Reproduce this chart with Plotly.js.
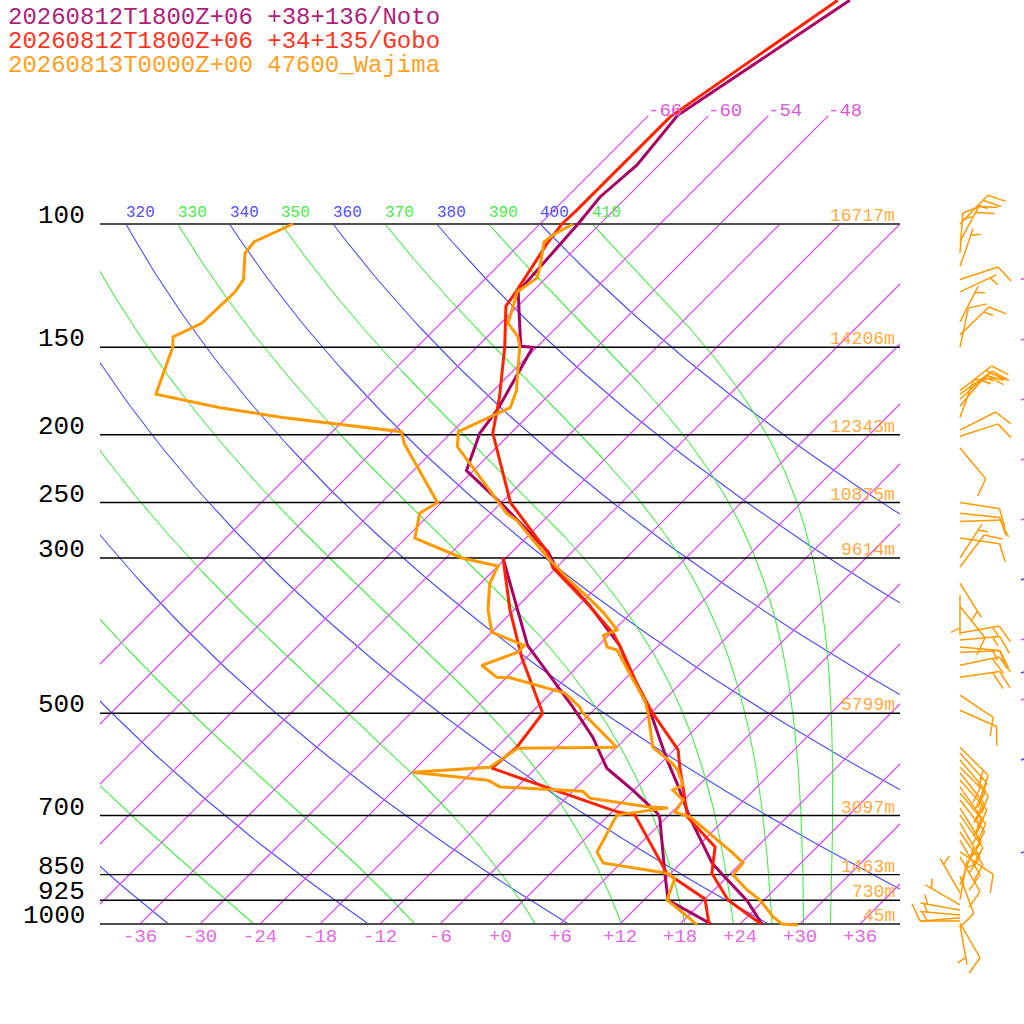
<!DOCTYPE html>
<html><head><meta charset="utf-8">
<script src="https://cdn.plot.ly/plotly-3.0.1.min.js"></script>
<style>html,body{margin:0;padding:0;background:#fff}#chart{width:1024px;height:1024px}</style>
</head><body><div id="chart"></div>
<script>
// ---------------- DATA ----------------
const titles = ["20260812T1800Z+06 +38+136/Noto", "20260812T1800Z+06 +34+135/Gobo", "20260813T0000Z+00 47600_Wajima"];
const pressureLevels = [100, 150, 200, 250, 300, 500, 700, 850, 925, 1000];
const heightLabels = ["16717m", "14206m", "12343m", "10875m", "9614m", "5799m", "3097m", "1463m", "730m", "45m"];
const tempTicks = [-36, -30, -24, -18, -12, -6, 0, 6, 12, 18, 24, 30, 36];
const tempTickText = ["-36", "-30", "-24", "-18", "-12", "-6", "+0", "+6", "+12", "+18", "+24", "+30", "+36"];
const isotherms = [-66, -60, -54, -48, -42, -36, -30, -24, -18, -12, -6, 0, 6, 12, 18, 24, 30, 36];
const isothermLabels = [-66, -60, -54, -48];
const dryThetas = [240, 260, 280, 300, 320, 340, 360, 380, 400];
const moistThetas = [250, 270, 290, 310, 330, 350, 370, 390, 410];

// Noto (model)
const noto_p  = [1000, 925, 850, 818, 704, 629, 583, 495, 444, 400, 350, 312, 294, 250, 225, 199, 184, 150, 149.5, 125, 100, 91.5, 82.4, 70, 47.9];
const noto_t  = [26.2, 22.3, 17.3, 15.1, 8.3, 3.6, 0.3, -6.4, -11.4, -15.9, -23.0, -29.7, -32.4, -42.1, -48.7, -51.1, -51.7, -54.4, -55.7, -61.4, -62.2, -62.7, -62.2, -63.1, -57.4];
const noto_dp = [1000, 924, 846, 704, 694, 644, 599, 541, 490, 463, 400, 300];
const noto_td = [21.1, 14.4, 11.4, 5.3, 4.6, -0.1, -4.9, -9.4, -14.4, -17.4, -25.1, -36.3];
// Gobo (model)
const gobo_p  = [1000, 924, 846, 776, 704, 597, 564, 498, 453, 400, 384, 348, 310, 294, 250, 199, 177, 150, 131, 124, 106, 100, 95.4, 70.3, 68.7, 47.9];
const gobo_t  = [26.1, 20.4, 16.1, 13.8, 8.1, 2.3, 0.4, -6.0, -10.4, -15.9, -17.8, -23.4, -30.3, -32.5, -41.1, -49.8, -52.7, -57.2, -61.2, -61.7, -63.4, -63.8, -63.7, -63.7, -63.4, -58.6];
const gobo_dp = [1000, 921, 846, 766, 699, 692, 599, 559, 500, 416, 356, 300];
const gobo_td = [20.9, 18.0, 11.6, 6.9, 2.6, 0.6, -16.4, -16.0, -16.8, -24.5, -30.4, -36.3];
// Wajima (observed)
const waj_p  = [1003, 1000, 977, 924, 894, 851, 818, 792, 703, 692, 665, 644, 633, 603, 589, 559, 498, 479, 448, 406, 402, 387, 380, 359, 344, 323, 305, 299, 265, 259, 208, 198, 189, 183, 173, 160, 150, 145, 138.5, 128.4, 125, 119.4, 115.2, 106.1, 103.7, 100];
const waj_t  = [29.9, 28.2, 26.6, 23.6, 21.3, 18.4, 18.2, 16.2, 8.3, 6.3, 5.9, 3.9, 4.4, 2.4, 1.1, -2.4, -6.4, -7.9, -11.1, -15.7, -17.0, -18.5, -17.7, -20.8, -23.4, -27.4, -30.8, -32.0, -38.7, -40.4, -52.0, -53.4, -51.8, -50.6, -51.7, -53.9, -55.7, -56.9, -59.3, -60.9, -61.5, -60.9, -61.7, -63.8, -63.6, -62.7];
const waj_dp = [1003, 964, 924, 860, 846, 818, 789, 699, 687, 683, 680, 661, 646, 637, 623, 607, 597, 561, 559, 498, 490, 468, 445, 444, 427, 409, 400, 383, 356, 326, 308, 300, 281, 259, 250, 206, 198, 189, 183, 175, 150, 145, 138.5, 125, 120, 110, 106, 100];
const waj_td = [19.8, 17.2, 14.3, 12.9, 11.6, 4.2, 2.5, 0.8, 3.9, 5.2, 3.0, -3.6, -5.0, -13.7, -15.6, -23.9, -16.7, -15.8, -6.0, -13.0, -13.7, -16.6, -23.6, -25.0, -27.7, -25.4, -25.4, -30.0, -32.6, -35.1, -36.0, -40.4, -47.1, -49.1, -48.4, -57.6, -59.1, -72.4, -79.6, -87.4, -90.4, -91.4, -89.9, -89.7, -90.1, -92.6, -92.8, -90.7];
// Wajima winds (hPa, direction deg, speed kt)
const wind_p   = [100, 106, 110, 115, 120, 125, 138, 144, 150, 173, 175, 178, 182, 189, 197, 201, 209, 250, 259, 266, 281, 300, 309, 326, 339, 352, 384, 393, 402, 409, 427, 444, 471, 495, 559, 570, 583, 597, 608, 623, 637, 650, 665, 683, 699, 717, 739, 759, 789, 802, 854, 880, 903, 924, 939, 955, 971, 980, 990, 997, 1003];
const wind_dir = [44, 28, 4, 19, 72, 65, 27, 46, 12, 52, 55, 48, 40, 20, 63, 72, 140, 99, 96, 88, 98, 33, 37, 148, 180, 141, 80, 85, 95, 88, 78, 82, 124, 114, 135, 138, 140, 135, 142, 138, 145, 140, 142, 148, 145, 150, 145, 150, 124, 150, 160, 20, 330, 10, 300, 280, 275, 265, 270, 150, 170];
const wind_kt  = [25, 20, 15, 5, 10, 5, 5, 15, 10, 20, 25, 15, 15, 10, 10, 10, 10, 10, 10, 10, 10, 5, 10, 5, 5, 10, 15, 15, 10, 15, 20, 20, 10, 10, 15, 15, 20, 15, 15, 20, 15, 15, 15, 15, 10, 10, 10, 10, 10, 10, 10, 5, 5, 5, 5, 5, 5, 5, 10, 10, 5];
// small marks at the right page edge
const markPurple_p = [120, 146.5, 178.4, 217.4, 264.8, 322.6, 392.9, 478.6, 583.1];
const markBlue_p = [322.6, 437.9, 583.1, 791.8];

// ---------------- GEOMETRY ----------------
const K = 70 / Math.LN10;           // skew: degC per ln(1000/p)
const KAP = 0.2857;
function X(tc, p) { return tc + K * Math.log(1000 / p); }
const colIso = '#dc50f4';
const colDry = '#4a4aff';
const colMoist = '#44ee44';
const FONT = 'Liberation Mono, Cousine, monospace';

const traces = [];

// dry adiabats
const plist = [];
for (let i = 0; i <= 80; i++) plist.push(1000 * Math.pow(0.1, i / 80));
const dryX = [], dryY = [];
dryThetas.forEach(th => {
  plist.forEach(p => { dryX.push(X(th * Math.pow(p / 1000, KAP) - 273.15, p)); dryY.push(p); });
  dryX.push(null); dryY.push(null);
});
traces.push({ type: 'scatter', x: dryX, y: dryY, mode: 'lines', line: { color: colDry, width: 1.1 }, hoverinfo: 'skip' });

// moist adiabats (pseudo-adiabatic), integrated downward from 100 hPa
const Rd = 287.04, cpd = 1005.7, Lv = 2.501e6, EPS = 0.622;
function es(T) { const c = T - 273.15; return 6.112 * Math.exp(17.67 * c / (c + 243.5)); }
function dT(T, lnp) {
  const p = Math.exp(lnp); const e = es(T); const rs = EPS * e / Math.max(p - e, 1e-3);
  return (Rd * T + Lv * rs) / (cpd + Lv * Lv * rs * EPS / (Rd * T * T));
}
function moistCurve(thTop) {
  const n = 200; let lnp = Math.log(100); const h = (Math.log(1000) - lnp) / n;
  let T = thTop * Math.pow(0.1, KAP); const out = [];
  for (let i = 0; i <= n; i++) {
    out.push([T - 273.15, Math.exp(lnp)]);
    const k1 = dT(T, lnp), k2 = dT(T + h * k1 / 2, lnp + h / 2), k3 = dT(T + h * k2 / 2, lnp + h / 2), k4 = dT(T + h * k3, lnp + h);
    T += h * (k1 + 2 * k2 + 2 * k3 + k4) / 6; lnp += h;
  }
  return out;
}
const moX = [], moY = [];
moistThetas.forEach(th => {
  moistCurve(th).forEach(([t, p]) => { moX.push(X(t, p)); moY.push(p); });
  moX.push(null); moY.push(null);
});
traces.push({ type: 'scatter', x: moX, y: moY, mode: 'lines', line: { color: colMoist, width: 1.1 }, hoverinfo: 'skip' });

// isotherms: one trace per line, sampled along pressure
isotherms.forEach(t => {
  const ptop = t <= -48 ? 70 : 100;
  const xs = [], ys = [];
  for (let i = 0; i <= 20; i++) { const p = 1000 * Math.pow(ptop / 1000, i / 20); xs.push(X(t, p)); ys.push(p); }
  traces.push({ type: 'scatter', x: xs, y: ys, mode: 'lines', line: { color: colIso, width: 1.25 }, opacity: 1, hoverinfo: 'skip' });
});

// pressure lines
const plxa = [], plya = [], plxb = [], plyb = [];
pressureLevels.forEach(p => {
  if (p === 100 || p === 1000) { plxb.push(-40, 40, null); plyb.push(p, p, null); }
  else { plxa.push(-40, 40, null); plya.push(p, p, null); }
});
traces.push({ type: 'scatter', x: plxa, y: plya, mode: 'lines', line: { color: '#000000', width: 1.4 }, hoverinfo: 'skip' });
traces.push({ type: 'scatter', x: plxb, y: plyb, mode: 'lines', line: { color: '#505050', width: 2 }, hoverinfo: 'skip' });

// soundings
function prof(ps, ts, color, w) {
  return { type: 'scatter', x: ts.map((t, i) => X(t, ps[i])), y: ps, mode: 'lines', line: { color, width: w }, hoverinfo: 'skip' };
}
const cNoto = '#aa0066', cGobo = '#ff2200', cWaj = '#ff9900';
traces.push(prof(noto_p, noto_t, cNoto, 3), prof(noto_dp, noto_td, cNoto, 3));
traces.push(prof(gobo_p, gobo_t, cGobo, 3), prof(gobo_dp, gobo_td, cGobo, 3));
traces.push(prof(waj_p, waj_t, cWaj, 3), prof(waj_dp, waj_td, cWaj, 3));

// wind barbs on the secondary (pixel-x, log-p) axes
const bx = [], by = [];
(function () {
  const L = 40, F = 19, H = 10, S = 7, BX = 960, A = 65 * Math.PI / 180;
  function pt(px, dy, p) { bx.push(px); by.push(p * Math.pow(10, dy / 700)); }
  wind_p.forEach((p, i) => {
    const r = wind_dir[i] * Math.PI / 180;
    const ux = Math.sin(r), uy = -Math.cos(r);
    const fx = ux * Math.cos(A) - uy * Math.sin(A), fy = ux * Math.sin(A) + uy * Math.cos(A);
    const tx = BX + L * ux, ty = L * uy;
    pt(BX, 0, p); pt(tx, ty, p); bx.push(null); by.push(null);
    let full = Math.floor(wind_kt[i] / 10), half = (wind_kt[i] % 10) >= 5 ? 1 : 0, k = 0;
    for (let j = 0; j < full; j++, k++) {
      const sx = tx - k * S * ux, sy = ty - k * S * uy;
      pt(sx, sy, p); pt(sx + F * fx, sy + F * fy, p); bx.push(null); by.push(null);
    }
    if (half) {
      if (k === 0) k = 1;
      const sx = tx - k * S * ux, sy = ty - k * S * uy;
      pt(sx, sy, p); pt(sx + H * fx, sy + H * fy, p); bx.push(null); by.push(null);
    }
  });
})();
traces.push({ type: 'scatter', x: bx, y: by, xaxis: 'x2', yaxis: 'y2', mode: 'lines', line: { color: cWaj, width: 1.5 }, hoverinfo: 'skip' });
function marks(ps, c) {
  const mx = [], my = [];
  ps.forEach(p => { mx.push(1021, 1022.5, 1024, null); my.push(p, p * Math.pow(10, -0.5 / 700), p * Math.pow(10, -1 / 700), null); });
  return { type: 'scatter', x: mx, y: my, xaxis: 'x2', yaxis: 'y2', mode: 'lines', line: { color: c, width: 1.5 }, hoverinfo: 'skip' };
}
traces.push(marks(markPurple_p, colIso), marks(markBlue_p, colDry));

// ---------------- ANNOTATIONS ----------------
const ann = [];
const tcols = ['#b0207a', '#ff3322', '#ffa020'];
titles.forEach((t, i) => ann.push({ text: t, xref: 'paper', yref: 'paper', x: 6 / 1024, y: 1 - (17 + 24 * i) / 1024,
  xanchor: 'left', yanchor: 'middle', showarrow: false, font: { family: FONT, size: 24, color: tcols[i] } }));
pressureLevels.forEach((p, i) => {
  ann.push({ text: String(p), xref: 'paper', yref: 'y', x: 87 / 1024, y: Math.log10(p), yshift: 8,
    xanchor: 'right', yanchor: 'middle', showarrow: false, font: { family: FONT, size: 26, color: '#000000' } });
  ann.push({ text: heightLabels[i], xref: 'paper', yref: 'y', x: 897 / 1024, y: Math.log10(p), yshift: 8,
    xanchor: 'right', yanchor: 'middle', showarrow: false, font: { family: FONT, size: 18, color: '#ffaa40' } });
});
tempTicks.forEach((t, i) => ann.push({ text: tempTickText[i], xref: 'x', yref: 'paper', x: t, y: 1 - 937 / 1024,
  xanchor: 'center', yanchor: 'middle', showarrow: false, font: { family: FONT, size: 19, color: '#e666e6' } }));
isothermLabels.forEach(t => ann.push({ text: String(t), xref: 'x', yref: 'y', x: X(t, 70) - 0.2, y: Math.log10(70), yshift: 5,
  xanchor: 'left', yanchor: 'middle', showarrow: false, font: { family: FONT, size: 19, color: '#dd55dd' } }));
dryThetas.forEach(th => { const xx = X(th * Math.pow(0.1, KAP) - 273.15, 100); if (xx > -40 && xx < 38)
  ann.push({ text: String(th), xref: 'x', yref: 'y', x: xx - 0.2, y: 2, yshift: 11, xanchor: 'left', yanchor: 'middle',
    showarrow: false, font: { family: FONT, size: 16, color: '#5050ff' } }); });
moistThetas.forEach(th => { const xx = X(th * Math.pow(0.1, KAP) - 273.15, 100); if (xx > -40 && xx < 38)
  ann.push({ text: String(th), xref: 'x', yref: 'y', x: xx - 0.2, y: 2, yshift: 11, xanchor: 'left', yanchor: 'middle',
    showarrow: false, font: { family: FONT, size: 16, color: '#44ee44' } }); });

const ax = { showgrid: false, zeroline: false, showticklabels: false, ticks: '', showline: false, fixedrange: true };
const layout = {
  width: 1024, height: 1024, autosize: false, margin: { l: 0, r: 0, t: 0, b: 0, pad: 0 },
  paper_bgcolor: '#ffffff', plot_bgcolor: 'rgba(0,0,0,0)', showlegend: false,
  xaxis: Object.assign({ domain: [100 / 1024, 900 / 1024], range: [-40, 40], anchor: 'y' }, ax),
  yaxis: Object.assign({ type: 'log', domain: [94 / 1024, 1], range: [3 + 6 / 700, 3 - 924 / 700], anchor: 'x' }, ax),
  xaxis2: Object.assign({ domain: [900 / 1024, 1], range: [900, 1024], anchor: 'y2' }, ax),
  yaxis2: Object.assign({ type: 'log', domain: [0, 1], range: [3 + 100 / 700, 3 - 924 / 700], anchor: 'x2' }, ax),
  annotations: ann
};
Plotly.newPlot('chart', traces, layout, { displayModeBar: false, staticPlot: true });
</script></body></html>
